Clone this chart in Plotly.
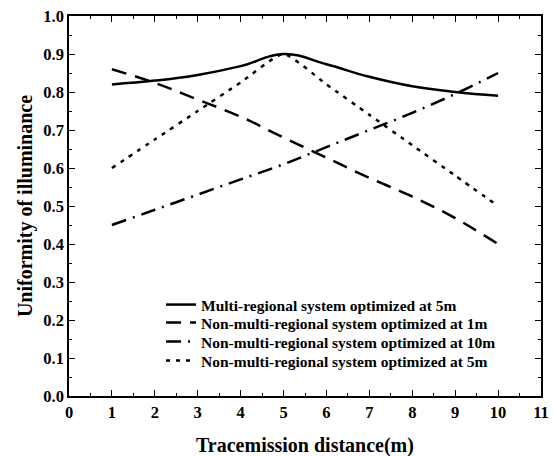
import plotly.graph_objects as go

x = [1, 2, 3, 4, 5, 6, 7, 8, 9, 10]
multi_5m = [0.82, 0.83, 0.845, 0.868, 0.90, 0.873, 0.84, 0.815, 0.80, 0.79]
non_1m = [0.86, 0.824, 0.78, 0.735, 0.68, 0.627, 0.574, 0.525, 0.468, 0.40]
non_10m = [0.45, 0.49, 0.53, 0.57, 0.61, 0.655, 0.70, 0.745, 0.795, 0.85]
non_5m = [0.60, 0.675, 0.75, 0.825, 0.90, 0.82, 0.74, 0.66, 0.58, 0.50]

names = [
    "Multi-regional system optimized at 5m",
    "Non-multi-regional system optimized at 1m",
    "Non-multi-regional system optimized at 10m",
    "Non-multi-regional system optimized at 5m",
]
x_title = "Tracemission distance(m)"
y_title = "Uniformity of illuminance"

fig = go.Figure()
fig.add_trace(go.Scatter(x=x, y=multi_5m, mode="lines", name=names[0], legend="legend",
                         line=dict(color="black", width=2.5, shape="spline", smoothing=1.2)))
fig.add_trace(go.Scatter(x=x, y=non_1m, mode="lines", name=names[1], legend="legend2",
                         line=dict(color="black", width=2.5, dash="15px,9px", shape="spline")))
fig.add_trace(go.Scatter(x=x, y=non_10m, mode="lines", name=names[2], legend="legend3",
                         line=dict(color="black", width=2.5, dash="15px,7px,2px,7px", shape="spline")))
fig.add_trace(go.Scatter(x=x, y=non_5m, mode="lines", name=names[3], legend="legend4",
                         line=dict(color="black", width=2.5, dash="4px,6px", shape="spline", smoothing=0.5)))

font_family = "Liberation Serif"
axis_common = dict(
    showline=True, linecolor="black", linewidth=1.5, mirror="ticks",
    ticks="inside", ticklen=6, tickwidth=1, tickcolor="black",
    showgrid=False, zeroline=False, automargin=False,
    tickfont=dict(family=font_family, size=16.5, color="black", weight="bold"),
    minor=dict(ticks="inside", ticklen=3, tickwidth=1, tickcolor="black"),
)

def leg(yc):
    return dict(x=0.195, y=yc, xanchor="left", yanchor="middle",
                bgcolor="rgba(0,0,0,0)",
                font=dict(family=font_family, size=15.5, weight="bold", color="black"))

title_font = dict(family=font_family, size=20, weight="bold", color="black")

fig.update_layout(
    width=553, height=456,
    margin=dict(l=69, r=12, t=16, b=60),
    paper_bgcolor="white", plot_bgcolor="white",
    font=dict(family=font_family, color="black"),
    xaxis=dict(range=[0, 11], dtick=1, tick0=0, **axis_common),
    yaxis=dict(range=[0, 1.0], dtick=0.1, tick0=0, tickformat=".1f", **axis_common),
    legend=leg(0.2395),
    legend2=leg(0.192),
    legend3=leg(0.142),
    legend4=leg(0.092),
    showlegend=True,
    annotations=[
        dict(text=x_title, xref="paper", yref="paper", x=0.5, y=-0.129,
             xanchor="center", yanchor="middle", showarrow=False, font=title_font),
        dict(text=y_title, xref="paper", yref="paper", x=-0.093, y=0.5,
             xanchor="center", yanchor="middle", showarrow=False, textangle=-90, font=title_font),
    ],
)
fig.update_xaxes(minor=dict(dtick=0.5))
fig.update_yaxes(minor=dict(dtick=0.05))

fig.write_html("out.html", config={"displayModeBar": False},
               post_script="document.body.style.margin='0';document.body.style.padding='0';")
